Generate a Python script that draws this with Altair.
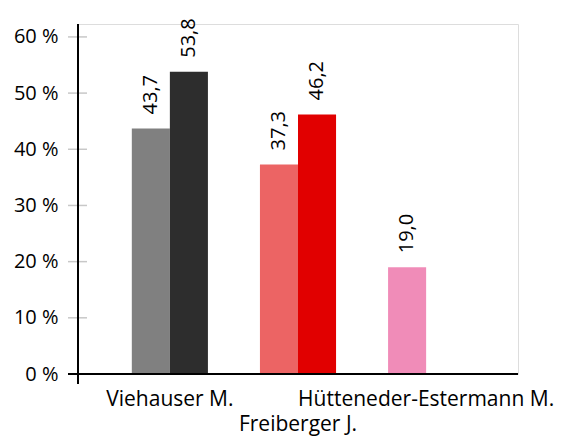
import altair as alt
import pandas as pd

candidates = ["Viehauser M.", "Freiberger J.", "Hütteneder-Estermann M."]
series = ["a", "b"]
values_a = [43.7, 37.3, 19.0]
values_b = [53.8, 46.2, None]
colors_a = ["#808080", "#EC6464", "#F08CB8"]
colors_b = ["#2D2D2D", "#E10000", "#FFFFFF"]
y_ticks = [0, 10, 20, 30, 40, 50, 60]

rows = []
for i, c in enumerate(candidates):
    rows.append({"cand": c, "ser": "a", "val": values_a[i], "col": colors_a[i]})
    if values_b[i] is not None:
        rows.append({"cand": c, "ser": "b", "val": values_b[i], "col": colors_b[i]})
df = pd.DataFrame(rows)
df["lab"] = df["val"].map(lambda v: f"{v:.1f}".replace(".", ","))

FONT = "Open Sans"
W, H = 440, 350

xscale = alt.Scale(domain=candidates, paddingInner=0.406, paddingOuter=0.42)
yscale = alt.Scale(domain=[0, 62.3], nice=False)

base = alt.Chart(df)

bars = base.mark_bar().encode(
    x=alt.X("cand:N", scale=xscale, sort=candidates,
            axis=alt.Axis(title=None, domain=False, ticks=False, labelAngle=0,
                          labelFont=FONT, labelFontSize=21, labelColor="#000",
                          labelOverlap=False, labelBound=False, labelLimit=0,
                          labelPadding=14, labelLineHeight=25,
                          labelExpr="datum.value == 'Freiberger J.' ? ['', datum.label] : datum.label")),
    xOffset=alt.XOffset("ser:N", scale=alt.Scale(domain=series)),
    y=alt.Y("val:Q", scale=yscale,
            axis=alt.Axis(title=None, values=y_ticks, domain=False, ticks=False,
                          grid=False, labelExpr="datum.value + ' %'",
                          labelFont=FONT, labelFontSize=20, labelColor="#000",
                          labelPadding=20, labelLimit=0)),
    color=alt.Color("col:N", scale=None),
)

labels = base.mark_text(angle=270, align="left", baseline="middle", dx=14,
                        font=FONT, fontSize=20, color="#000").encode(
    x=alt.X("cand:N", scale=xscale, sort=candidates),
    xOffset=alt.XOffset("ser:N", scale=alt.Scale(domain=series)),
    y=alt.Y("val:Q", scale=yscale),
    text="lab:N",
)

tick_df = pd.DataFrame({"t": y_ticks[1:]})
ticks = alt.Chart(tick_df).mark_rule(color="#C8C8C8", strokeWidth=1.5).encode(
    y=alt.Y("t:Q", scale=yscale),
    x=alt.value(-10), x2=alt.value(9),
)

zero_df = pd.DataFrame({"t": [0]})
xaxis_line = alt.Chart(zero_df).mark_rule(color="#000", strokeWidth=2).encode(
    y=alt.Y("t:Q", scale=yscale),
    x=alt.value(-10), x2=alt.value(W),
)
yaxis_line = alt.Chart(zero_df).mark_rule(color="#000", strokeWidth=2).encode(
    x=alt.value(0), y=alt.value(0), y2=alt.value(H + 10),
)

chart = alt.layer(ticks, bars, labels, xaxis_line, yaxis_line).properties(
    width=W, height=H,
    autosize=alt.AutoSizeParams(type="none"),
    padding={"left": 70, "top": 16, "right": 37, "bottom": 66},
).configure_view(stroke=None).configure(background="white")

chart.save("out.html", embed_options={"renderer": "svg", "actions": False})
